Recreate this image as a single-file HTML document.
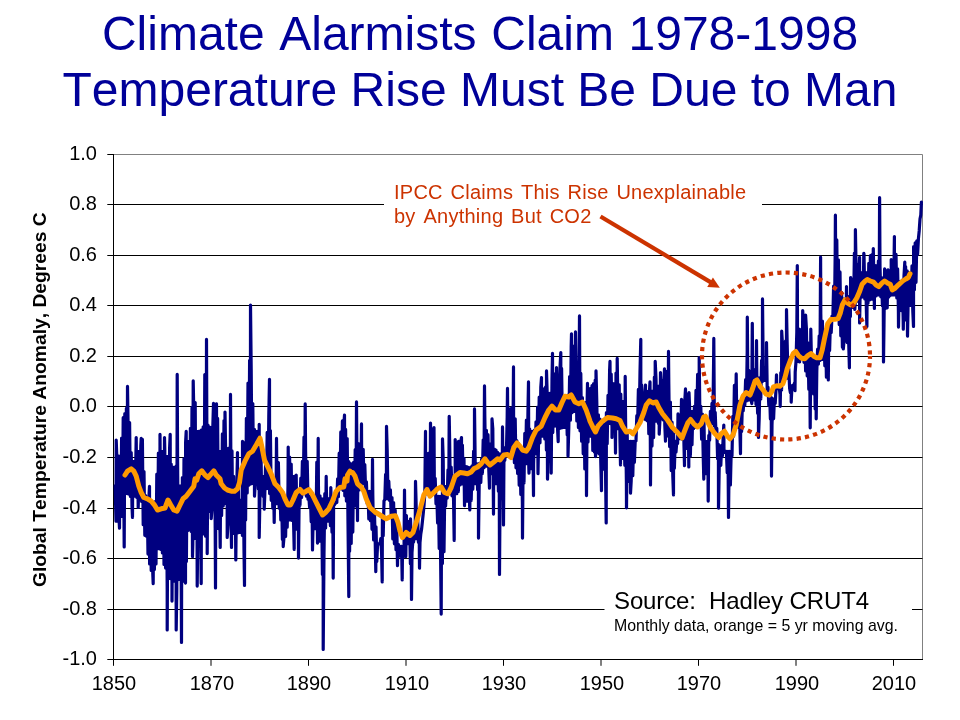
<!DOCTYPE html>
<html><head><meta charset="utf-8"><title>Slide</title>
<style>
html,body{margin:0;padding:0;background:#fff;}
body{width:960px;height:720px;position:relative;overflow:hidden;font-family:"Liberation Sans",sans-serif;color:#000;font-kerning:none;}
.t{position:absolute;white-space:nowrap;will-change:transform;}
.ttl{left:0;width:960px;text-align:center;font-size:48px;line-height:48px;color:#000099;}
#t1{top:9.56px;word-spacing:1.3px;}
#t2{top:66.06px;}
.yl{font-size:20px;line-height:20px;text-align:right;width:60px;left:37px;}
.xl{font-size:20px;line-height:20px;text-align:center;width:60px;}
#ytitle{font-weight:bold;font-size:19.28px;line-height:20px;transform-origin:0 0;transform:rotate(-90deg);left:29.9px;top:587px;}
#ann{left:394px;top:180.4px;font-size:20px;line-height:24px;color:#CC3300;letter-spacing:0.25px;word-spacing:2px;}
#src1{left:613.5px;top:587px;font-size:24px;line-height:28px;letter-spacing:-0.12px;}
#src2{left:613.8px;top:616px;font-size:15.9px;line-height:20px;}
</style></head><body>
<svg width="960" height="720" viewBox="0 0 960 720" style="position:absolute;left:0;top:0">
<path d="M113.5 154.5H922.5V659.5" fill="none" stroke="#808080" stroke-width="1"/>
<path d="M113.5 204.5H922.5" stroke="#000" stroke-width="1"/>
<path d="M113.5 255.5H922.5" stroke="#000" stroke-width="1"/>
<path d="M113.5 305.5H922.5" stroke="#000" stroke-width="1"/>
<path d="M113.5 356.5H922.5" stroke="#000" stroke-width="1"/>
<path d="M113.5 406.5H922.5" stroke="#000" stroke-width="1"/>
<path d="M113.5 457.5H922.5" stroke="#000" stroke-width="1"/>
<path d="M113.5 508.5H922.5" stroke="#000" stroke-width="1"/>
<path d="M113.5 558.5H922.5" stroke="#000" stroke-width="1"/>
<path d="M113.5 609.5H922.5" stroke="#000" stroke-width="1"/>
<rect x="384" y="180" width="378" height="50" fill="#fff"/>
<rect x="604.5" y="590" width="307.5" height="48" fill="#fff"/>
<path d="M113.5 154V660" stroke="#000" stroke-width="1"/>
<path d="M113 659.5H923" stroke="#000" stroke-width="1"/>
<path d="M107.3 154.5H113.5" stroke="#000" stroke-width="1"/>
<path d="M107.3 204.5H113.5" stroke="#000" stroke-width="1"/>
<path d="M107.3 255.5H113.5" stroke="#000" stroke-width="1"/>
<path d="M107.3 305.5H113.5" stroke="#000" stroke-width="1"/>
<path d="M107.3 356.5H113.5" stroke="#000" stroke-width="1"/>
<path d="M107.3 406.5H113.5" stroke="#000" stroke-width="1"/>
<path d="M107.3 457.5H113.5" stroke="#000" stroke-width="1"/>
<path d="M107.3 508.5H113.5" stroke="#000" stroke-width="1"/>
<path d="M107.3 558.5H113.5" stroke="#000" stroke-width="1"/>
<path d="M107.3 609.5H113.5" stroke="#000" stroke-width="1"/>
<path d="M107.3 659.5H113.5" stroke="#000" stroke-width="1"/>
<path d="M113.5 659.5V665.8" stroke="#000" stroke-width="1"/>
<path d="M211.0 659.5V665.8" stroke="#000" stroke-width="1"/>
<path d="M308.5 659.5V665.8" stroke="#000" stroke-width="1"/>
<path d="M406.0 659.5V665.8" stroke="#000" stroke-width="1"/>
<path d="M503.5 659.5V665.8" stroke="#000" stroke-width="1"/>
<path d="M601.0 659.5V665.8" stroke="#000" stroke-width="1"/>
<path d="M698.5 659.5V665.8" stroke="#000" stroke-width="1"/>
<path d="M796.0 659.5V665.8" stroke="#000" stroke-width="1"/>
<path d="M893.5 659.5V665.8" stroke="#000" stroke-width="1"/>
<path d="M115.2 485.5 L116.0 521.2 L116.2 440.1 L116.8 455.9 L117.6 521.2 L118.4 456.1 L119.2 522.2 L119.5 528.1 L120.0 456.1 L120.8 516.4 L121.6 438.0 L122.4 516.4 L123.2 417.7 L124.0 519.6 L124.2 546.9 L124.8 413.7 L125.6 493.6 L126.4 408.3 L127.2 493.6 L127.5 386.4 L128.0 419.6 L128.8 494.1 L129.6 422.5 L130.4 496.4 L131.2 452.5 L132.0 506.0 L132.5 517.4 L132.8 461.4 L133.6 496.1 L134.4 461.4 L135.2 496.1 L136.0 449.7 L136.2 437.6 L136.8 497.5 L137.6 451.4 L138.2 507.4 L138.4 499.6 L139.2 451.4 L140.0 498.6 L140.8 445.8 L141.2 438.4 L141.6 501.5 L142.4 439.4 L143.2 524.7 L144.0 471.6 L144.8 535.3 L145.6 495.6 L146.4 536.1 L147.2 498.9 L148.0 554.1 L148.8 498.9 L149.5 486.4 L149.6 564.0 L150.4 503.9 L151.2 570.5 L152.0 503.9 L152.8 574.3 L153.2 583.6 L153.6 503.2 L154.4 569.4 L155.2 501.6 L156.0 564.0 L156.8 474.2 L157.6 548.7 L158.4 453.0 L159.2 548.7 L160.0 446.3 L160.0 434.4 L160.8 549.4 L161.6 451.4 L162.4 552.9 L163.2 451.4 L164.0 564.5 L164.5 437.6 L164.8 450.4 L165.6 568.1 L166.4 456.4 L167.2 590.4 L167.2 629.9 L168.0 456.4 L168.8 578.6 L169.6 448.3 L170.2 434.4 L170.4 578.6 L171.2 464.1 L172.0 587.1 L172.0 601.1 L172.8 467.1 L173.6 581.1 L174.4 467.6 L175.2 581.1 L176.0 466.2 L176.2 629.9 L176.8 589.9 L177.2 374.4 L177.6 461.4 L178.4 579.6 L179.2 485.8 L180.0 579.6 L180.8 485.8 L181.5 642.4 L181.6 589.9 L182.4 477.6 L183.2 581.1 L184.0 458.7 L184.8 577.6 L185.5 583.1 L185.6 442.7 L186.2 431.4 L186.4 561.5 L187.2 441.4 L188.0 530.5 L188.8 441.4 L189.6 528.6 L190.4 428.3 L191.2 531.4 L192.0 407.4 L192.5 556.6 L192.8 544.4 L193.2 380.9 L193.6 401.4 L194.4 538.6 L195.2 402.5 L196.0 538.6 L196.8 431.4 L197.2 586.1 L197.6 548.9 L198.4 431.4 L199.2 544.6 L200.0 431.0 L200.8 546.6 L201.2 583.6 L201.6 429.8 L202.4 533.9 L203.2 426.8 L204.0 533.9 L204.8 374.6 L205.6 536.2 L206.4 422.0 L206.5 339.4 L207.2 524.9 L207.2 553.6 L208.0 425.2 L208.8 511.3 L209.6 427.0 L210.4 511.3 L211.2 427.6 L211.2 518.6 L212.0 508.9 L212.8 427.6 L213.5 403.4 L213.6 508.9 L214.4 411.5 L215.2 528.0 L215.5 587.9 L216.0 406.4 L216.5 403.9 L216.8 528.6 L217.6 418.4 L218.4 528.6 L219.2 451.4 L220.0 532.7 L220.2 547.4 L220.8 451.4 L221.6 515.6 L222.4 433.9 L223.2 506.0 L224.0 420.5 L224.8 503.6 L225.0 412.1 L225.6 448.8 L226.4 503.6 L227.2 448.8 L227.2 537.4 L228.0 523.9 L228.8 448.1 L229.6 523.9 L230.4 441.6 L230.5 394.4 L231.2 529.4 L231.5 547.4 L232.0 450.9 L232.8 533.6 L233.6 476.4 L234.4 533.6 L235.2 486.4 L235.8 559.9 L236.0 540.6 L236.8 486.4 L237.5 452.6 L237.6 533.0 L238.4 474.8 L239.2 532.4 L240.0 500.0 L240.8 532.4 L241.6 500.0 L242.4 535.5 L242.5 441.4 L243.2 465.4 L244.0 549.8 L244.5 585.4 L244.8 442.6 L245.6 519.9 L246.4 418.3 L247.2 492.9 L248.0 383.0 L248.8 485.2 L249.6 360.4 L250.4 484.1 L250.5 305.1 L251.2 369.1 L252.0 483.6 L252.8 403.6 L253.6 483.6 L254.4 429.3 L254.5 496.1 L255.2 484.4 L256.0 431.3 L256.8 483.9 L257.6 431.4 L258.4 489.0 L259.2 432.5 L259.2 424.4 L259.2 537.4 L260.0 493.9 L260.8 440.2 L261.6 493.9 L262.4 476.4 L263.2 496.4 L264.0 476.4 L264.2 509.1 L264.8 494.6 L265.6 464.7 L266.4 488.6 L267.2 432.3 L268.0 488.6 L268.8 415.4 L269.5 379.4 L269.6 493.6 L270.4 430.6 L271.2 500.3 L272.0 477.6 L272.8 508.1 L273.6 483.6 L274.2 522.4 L274.4 507.8 L275.2 483.6 L276.0 503.7 L276.5 438.4 L276.8 466.3 L277.6 503.7 L278.4 462.5 L279.2 508.2 L280.0 491.8 L280.8 520.0 L281.6 496.6 L282.4 539.4 L283.2 498.8 L283.2 546.6 L284.0 537.2 L284.8 498.8 L285.6 536.4 L286.4 497.0 L287.2 527.2 L288.0 485.7 L288.2 447.1 L288.8 519.9 L289.6 457.0 L290.4 519.9 L291.2 464.1 L292.0 520.4 L292.8 476.4 L293.6 523.6 L294.2 549.4 L294.4 476.4 L295.2 529.1 L296.0 487.5 L296.2 475.1 L296.8 529.1 L297.6 493.9 L298.4 529.5 L298.5 558.1 L299.2 493.9 L300.0 505.4 L300.8 478.2 L301.6 497.4 L302.4 461.4 L303.2 493.7 L304.0 437.0 L304.8 493.7 L305.2 403.9 L305.6 451.6 L306.4 496.1 L307.2 461.4 L308.0 499.3 L308.8 496.4 L309.6 507.4 L310.4 496.4 L311.2 521.8 L312.0 496.4 L312.5 549.9 L312.8 535.4 L313.6 496.4 L314.4 528.6 L315.2 495.4 L316.0 528.6 L316.8 462.2 L317.5 543.1 L317.6 535.6 L318.2 438.4 L318.4 483.1 L319.2 541.1 L320.0 495.9 L320.8 541.1 L321.6 498.9 L322.4 574.4 L323.2 498.9 L323.2 649.4 L324.0 553.1 L324.8 493.7 L325.6 528.0 L326.2 476.4 L326.4 490.3 L327.2 521.1 L328.0 498.6 L328.8 521.1 L329.6 498.6 L330.4 525.7 L330.8 487.6 L331.2 503.1 L332.0 532.1 L332.8 506.4 L333.2 578.1 L333.6 505.0 L334.4 504.9 L335.2 503.7 L336.0 502.4 L336.8 502.5 L337.6 478.9 L338.4 496.6 L339.2 453.2 L340.0 488.8 L340.8 431.9 L341.6 488.8 L342.4 420.9 L343.2 490.4 L344.0 422.2 L344.5 415.1 L344.8 495.8 L345.6 429.4 L346.4 501.1 L347.2 438.6 L348.0 523.1 L348.8 596.6 L348.8 461.6 L349.6 551.2 L350.4 463.6 L351.2 543.4 L352.0 463.9 L352.8 532.1 L353.6 462.3 L354.4 506.1 L355.2 449.5 L356.0 506.1 L356.5 401.9 L356.8 440.3 L357.5 520.6 L357.6 500.4 L358.4 443.6 L359.2 489.9 L360.0 443.9 L360.8 484.6 L361.5 423.9 L361.6 445.3 L362.4 483.6 L363.2 449.3 L364.0 484.0 L364.8 464.5 L365.6 490.4 L366.4 481.9 L367.2 503.6 L368.0 491.4 L368.8 519.0 L369.6 491.4 L370.4 520.6 L371.2 491.4 L372.0 529.3 L372.5 459.4 L372.8 495.0 L373.6 540.0 L374.4 509.9 L375.2 541.0 L375.8 571.6 L376.0 526.9 L376.8 561.5 L377.6 543.9 L378.4 543.8 L379.2 543.8 L380.0 543.8 L380.8 538.6 L381.6 553.3 L382.2 581.9 L382.4 517.2 L383.2 535.7 L384.0 500.9 L384.8 499.7 L385.6 474.4 L386.4 498.6 L386.5 426.4 L387.2 450.4 L388.0 498.9 L388.8 481.2 L389.6 500.5 L390.4 489.9 L391.2 516.8 L392.0 497.6 L392.8 539.0 L393.6 502.6 L394.4 543.8 L395.2 510.1 L396.0 549.7 L396.8 527.2 L397.5 565.6 L397.6 557.8 L398.4 544.3 L399.2 556.1 L400.0 546.4 L400.8 556.1 L401.6 546.4 L402.2 579.9 L402.4 558.8 L403.2 546.4 L404.0 556.1 L404.5 490.1 L404.8 521.1 L405.6 549.4 L405.8 556.6 L406.4 515.6 L407.2 543.6 L408.0 521.3 L408.8 543.6 L409.6 524.5 L410.4 563.6 L410.5 518.9 L411.2 541.4 L411.5 599.4 L412.0 552.6 L412.8 541.4 L413.6 541.9 L414.4 531.4 L415.2 538.6 L415.5 481.4 L416.0 499.4 L416.8 538.6 L417.6 515.9 L418.4 542.3 L419.2 533.9 L419.5 568.1 L420.0 542.5 L420.8 533.9 L421.6 529.1 L422.4 521.5 L423.2 513.9 L424.0 505.6 L424.8 494.1 L425.5 431.4 L425.6 464.4 L426.4 493.6 L427.2 453.9 L428.0 493.8 L428.8 453.2 L429.6 494.9 L430.0 496.1 L430.4 444.3 L430.5 423.1 L431.2 494.4 L432.0 428.9 L432.8 493.6 L433.6 446.9 L434.0 427.6 L434.4 493.6 L435.2 478.4 L436.0 503.8 L436.8 496.4 L437.6 523.0 L438.4 496.4 L439.2 548.4 L440.0 496.4 L440.8 576.7 L441.2 614.1 L441.6 496.4 L442.4 563.4 L442.5 438.9 L443.2 459.0 L444.0 551.7 L444.8 486.4 L445.6 506.1 L446.4 486.4 L447.2 498.1 L448.0 469.9 L448.8 493.6 L449.2 416.4 L449.6 438.6 L450.4 493.6 L451.2 467.2 L452.0 495.8 L452.8 476.0 L453.6 502.3 L454.2 540.4 L454.4 476.0 L455.2 493.6 L455.2 439.6 L456.0 455.6 L456.8 493.6 L457.6 443.9 L458.4 491.4 L458.5 441.4 L459.2 442.6 L460.0 485.0 L460.8 441.4 L461.5 437.6 L461.6 483.8 L462.4 445.2 L463.2 484.0 L464.0 458.4 L464.5 505.6 L464.8 496.8 L465.6 466.4 L466.4 501.1 L467.2 466.8 L468.0 501.1 L468.8 467.6 L469.6 504.9 L469.8 509.9 L470.4 467.6 L471.2 500.4 L472.0 465.8 L472.8 489.2 L473.6 451.2 L474.4 483.6 L474.5 408.9 L475.2 462.1 L476.0 483.6 L476.8 463.9 L477.6 489.6 L478.4 463.9 L478.5 538.1 L479.2 483.5 L480.0 463.2 L480.8 482.5 L481.6 459.1 L482.4 473.4 L483.2 439.8 L484.0 467.7 L484.5 385.9 L484.8 416.1 L485.6 466.1 L486.4 430.4 L487.2 466.1 L488.0 434.7 L488.8 469.6 L489.5 488.1 L489.6 443.9 L490.4 473.6 L491.2 443.9 L492.0 473.6 L492.0 418.9 L492.8 428.9 L493.5 514.1 L493.6 487.8 L494.4 449.1 L495.2 483.6 L496.0 450.1 L496.8 483.6 L497.6 452.4 L498.4 491.1 L499.2 453.9 L499.5 574.4 L500.0 502.4 L500.8 453.9 L501.6 498.6 L502.4 448.1 L502.5 426.9 L503.2 491.2 L503.5 524.9 L504.0 451.4 L504.8 460.5 L505.6 447.4 L506.4 453.3 L507.2 416.5 L507.5 388.4 L508.0 452.4 L508.8 408.9 L509.6 452.7 L510.4 408.9 L511.2 455.1 L512.0 407.6 L512.8 457.8 L513.5 366.9 L513.6 417.6 L514.4 462.6 L515.2 418.8 L516.0 467.8 L516.8 440.5 L517.6 473.4 L518.4 443.5 L519.2 485.2 L520.0 448.1 L520.8 494.4 L521.6 451.4 L522.4 504.2 L522.5 538.1 L523.2 451.4 L524.0 482.9 L524.8 433.4 L525.6 463.6 L526.4 420.0 L527.2 463.6 L528.0 408.6 L528.5 381.9 L528.8 467.0 L529.0 473.1 L529.6 428.9 L530.4 468.6 L531.2 431.4 L532.0 468.6 L532.8 431.4 L533.5 495.6 L533.6 464.1 L534.4 430.2 L535.2 453.6 L536.0 421.9 L536.8 453.6 L537.6 407.0 L538.0 473.6 L538.4 451.1 L539.2 397.0 L540.0 442.8 L540.8 387.0 L541.5 377.6 L541.6 436.1 L542.4 388.9 L543.2 436.1 L544.0 388.9 L544.8 438.9 L545.6 386.9 L546.4 450.1 L546.5 370.9 L547.2 393.9 L547.5 479.1 L548.0 461.4 L548.8 393.9 L549.6 461.4 L550.4 393.1 L551.2 446.5 L551.2 473.1 L552.0 378.9 L552.5 353.4 L552.8 432.6 L553.6 373.9 L554.4 426.1 L555.2 373.9 L556.0 426.1 L556.5 367.6 L556.8 376.4 L557.6 430.0 L558.2 441.6 L558.4 376.4 L559.2 428.6 L560.0 368.4 L560.8 352.6 L560.8 428.1 L561.6 368.4 L562.4 427.7 L563.2 396.8 L564.0 427.4 L564.8 397.6 L565.6 427.4 L566.4 397.6 L567.2 435.0 L568.0 395.2 L568.0 456.1 L568.8 427.7 L569.6 376.5 L570.4 420.2 L571.2 346.7 L571.5 333.9 L572.0 412.7 L572.8 346.1 L573.6 411.3 L574.4 346.1 L575.2 411.4 L575.5 331.9 L576.0 365.4 L576.8 421.0 L577.6 365.4 L578.4 427.6 L579.2 356.6 L579.5 315.9 L580.0 430.8 L580.8 373.4 L581.6 441.2 L582.4 397.7 L583.2 453.8 L584.0 402.6 L584.8 469.0 L585.6 402.6 L586.4 468.4 L586.5 495.6 L587.2 399.8 L587.5 383.4 L588.0 442.1 L588.8 388.7 L589.6 436.1 L590.4 388.7 L591.2 436.1 L592.0 385.7 L592.8 450.5 L593.6 383.5 L594.4 452.0 L595.2 380.0 L595.5 456.6 L596.0 452.6 L596.0 370.9 L596.8 402.9 L597.6 452.4 L598.4 414.9 L599.2 454.0 L600.0 419.2 L600.8 463.0 L601.5 490.6 L601.6 422.4 L602.4 469.1 L603.2 423.8 L604.0 469.1 L604.8 423.8 L605.6 478.4 L606.2 522.9 L606.4 412.7 L607.2 443.6 L608.0 395.4 L608.8 423.6 L609.6 370.4 L610.0 361.4 L610.4 423.6 L611.2 374.0 L612.0 427.7 L612.0 437.4 L612.8 383.5 L613.6 426.4 L614.4 383.5 L615.2 426.9 L615.5 453.1 L616.0 373.0 L616.8 428.6 L617.2 358.4 L617.6 383.9 L618.4 428.6 L619.2 384.8 L620.0 441.9 L620.5 464.9 L620.8 394.0 L621.6 458.6 L622.4 401.4 L623.2 458.6 L624.0 401.4 L624.8 465.3 L625.2 376.4 L625.6 421.4 L626.4 482.2 L626.5 507.9 L627.2 434.2 L628.0 481.4 L628.8 441.4 L629.6 481.4 L630.4 441.4 L630.5 493.1 L631.2 480.9 L632.0 441.4 L632.8 475.6 L633.6 441.4 L634.4 462.3 L635.2 441.4 L636.0 440.9 L636.8 415.7 L637.6 423.3 L638.4 389.3 L639.2 421.1 L640.0 372.4 L640.8 339.4 L640.8 419.0 L641.6 384.9 L642.4 418.6 L643.2 393.9 L644.0 418.7 L644.8 393.9 L645.5 385.1 L645.6 419.7 L646.4 391.4 L647.2 420.8 L648.0 391.4 L648.8 433.7 L649.6 388.7 L650.0 381.9 L650.4 453.8 L650.5 484.9 L651.2 391.1 L652.0 446.1 L652.8 391.1 L653.6 437.6 L654.4 377.1 L655.2 421.1 L655.2 361.4 L656.0 378.7 L656.8 421.1 L657.6 386.1 L658.4 423.5 L659.2 386.1 L659.2 434.1 L660.0 418.7 L660.5 372.6 L660.8 381.3 L661.6 418.7 L662.4 381.4 L663.2 420.0 L664.0 380.8 L664.5 368.9 L664.8 424.8 L665.5 441.1 L665.6 371.4 L666.4 436.1 L667.2 371.4 L668.0 436.1 L668.5 351.4 L668.8 383.7 L669.6 446.6 L670.4 402.0 L671.2 470.6 L672.0 422.0 L672.8 475.9 L673.5 494.9 L673.6 433.9 L674.4 468.1 L675.2 441.1 L676.0 452.1 L676.8 441.1 L677.6 443.6 L678.0 413.9 L678.4 429.6 L679.2 438.6 L680.0 416.4 L680.8 438.6 L681.5 399.4 L681.6 410.5 L682.4 439.2 L683.2 401.3 L684.0 446.0 L684.5 465.6 L684.8 400.6 L685.5 388.9 L685.6 448.6 L686.4 393.9 L687.2 448.6 L688.0 395.8 L688.8 466.9 L688.8 455.9 L689.0 392.6 L689.6 407.1 L690.4 455.9 L691.2 411.4 L692.0 444.6 L692.8 411.4 L693.6 428.6 L694.4 406.4 L695.2 427.5 L696.0 390.4 L696.8 426.5 L697.6 374.4 L698.4 426.1 L699.2 379.0 L699.2 357.6 L700.0 426.1 L700.8 406.3 L701.6 439.1 L702.4 414.0 L703.2 455.3 L703.8 479.1 L704.0 421.4 L704.8 473.7 L705.6 441.4 L706.4 473.7 L707.2 441.4 L708.0 470.9 L708.2 501.1 L708.8 435.4 L709.6 440.3 L710.4 411.4 L711.2 423.6 L712.0 403.4 L712.8 423.6 L713.6 361.4 L713.8 338.4 L714.4 426.1 L715.2 412.4 L716.0 434.1 L716.8 428.4 L717.6 458.6 L718.4 444.4 L718.5 508.1 L719.2 468.4 L720.0 446.4 L720.8 465.4 L721.6 445.3 L722.4 456.7 L723.2 436.2 L723.8 425.1 L724.0 452.4 L724.8 450.9 L725.6 452.4 L726.4 451.4 L727.2 472.7 L728.0 451.4 L728.5 517.4 L728.8 490.8 L729.6 451.4 L730.4 485.0 L731.2 451.4 L732.0 455.9 L732.8 416.4 L733.6 436.1 L734.4 385.3 L735.2 423.8 L736.0 388.3 L736.2 373.9 L736.8 423.8 L737.6 401.2 L738.4 427.3 L739.2 407.2 L740.0 435.3 L740.5 453.6 L740.8 407.2 L741.6 431.4 L742.4 403.2 L743.2 410.8 L744.0 396.8 L744.8 405.4 L745.6 379.7 L746.4 401.0 L747.2 351.9 L747.3 317.2 L748.0 400.2 L748.8 370.3 L749.6 399.9 L750.4 371.7 L751.2 399.9 L751.8 403.6 L752.0 367.1 L752.3 323.3 L752.8 399.9 L753.6 369.7 L754.4 399.9 L755.2 369.7 L756.0 404.5 L756.5 340.6 L756.8 374.1 L757.6 413.3 L758.4 377.8 L758.5 437.4 L759.2 418.1 L760.0 377.8 L760.8 398.9 L761.6 360.4 L762.4 381.4 L762.5 298.9 L763.2 366.9 L764.0 380.4 L764.8 378.1 L765.6 380.4 L766.4 378.1 L766.5 342.6 L767.2 389.4 L768.0 387.3 L768.8 405.4 L769.6 393.7 L770.4 419.0 L771.2 397.4 L771.5 476.1 L772.0 425.3 L772.8 398.8 L773.6 418.8 L774.4 398.8 L775.2 403.4 L776.0 389.4 L776.5 374.9 L776.8 388.7 L777.6 386.3 L778.4 388.7 L779.2 386.3 L780.0 394.9 L780.2 406.3 L780.8 372.7 L781.6 389.9 L781.7 331.2 L782.4 342.5 L783.2 381.8 L784.0 342.5 L784.8 379.1 L785.6 340.8 L786.4 378.3 L786.5 309.7 L787.2 344.5 L788.0 378.3 L788.8 368.9 L789.6 388.3 L790.4 392.7 L791.2 387.9 L791.2 402.1 L792.0 385.5 L792.8 385.5 L793.6 385.5 L794.4 383.2 L795.0 390.7 L795.2 372.2 L796.0 361.7 L796.8 332.3 L797.3 265.6 L797.6 361.5 L798.4 328.7 L799.2 359.7 L799.6 361.9 L800.0 330.1 L800.8 357.5 L801.6 329.2 L802.4 357.5 L802.7 310.6 L803.2 318.9 L804.0 362.3 L804.8 318.6 L805.6 370.9 L805.6 315.1 L806.4 328.7 L807.2 376.0 L808.0 342.9 L808.8 389.3 L809.6 344.5 L810.2 427.8 L810.4 398.1 L810.8 329.1 L811.2 348.2 L812.0 392.9 L812.8 355.2 L813.6 393.9 L814.4 357.2 L815.2 409.0 L816.0 357.2 L816.2 418.8 L816.8 370.8 L817.6 349.2 L818.4 364.1 L819.2 335.8 L820.0 360.5 L820.6 257.2 L820.8 313.9 L821.6 359.4 L822.4 321.1 L823.2 359.4 L824.0 330.1 L824.8 365.8 L825.6 330.1 L826.4 377.1 L827.2 326.0 L828.0 368.3 L828.3 379.9 L828.8 324.0 L829.6 350.4 L830.4 322.4 L831.2 332.7 L832.0 316.2 L832.8 319.7 L833.6 286.2 L834.4 318.4 L835.2 253.3 L835.4 215.2 L836.0 317.8 L836.8 239.9 L837.6 317.8 L838.4 259.8 L839.2 324.6 L840.0 271.9 L840.8 335.8 L841.6 292.4 L842.4 347.2 L843.2 298.8 L843.3 349.0 L844.0 340.8 L844.8 299.1 L845.6 340.8 L846.4 299.1 L846.5 286.6 L847.2 342.6 L848.0 297.9 L848.8 346.1 L849.4 367.8 L849.6 296.2 L850.4 316.4 L850.6 277.6 L851.2 284.5 L852.0 307.4 L852.8 279.2 L853.6 307.4 L854.4 253.1 L854.8 309.4 L855.2 302.9 L855.4 229.7 L856.0 263.0 L856.8 301.2 L857.6 264.7 L858.4 301.2 L859.2 268.3 L859.6 257.4 L859.6 323.0 L860.0 300.8 L860.8 272.6 L861.6 297.2 L862.4 272.6 L863.2 297.0 L863.8 253.3 L864.0 254.3 L864.8 299.0 L865.6 272.6 L866.4 311.1 L866.9 326.5 L867.2 272.6 L868.0 303.3 L868.8 263.3 L869.6 300.0 L870.4 255.7 L871.2 299.1 L872.0 254.7 L872.8 299.1 L873.3 248.5 L873.6 265.1 L874.4 308.4 L874.4 298.6 L875.2 265.7 L876.0 295.9 L876.8 265.7 L877.6 294.9 L878.4 260.9 L879.2 294.9 L879.6 197.7 L880.0 266.2 L880.8 296.8 L881.6 277.6 L882.4 305.6 L883.2 279.1 L883.5 361.9 L884.0 325.0 L884.6 268.9 L884.8 278.8 L885.6 308.3 L886.4 271.0 L887.2 307.8 L887.9 269.9 L888.0 270.9 L888.8 297.0 L889.6 270.9 L890.4 295.3 L891.2 269.5 L891.2 259.5 L892.0 294.9 L892.8 260.6 L893.6 294.9 L894.4 236.6 L894.4 256.4 L895.2 294.9 L896.0 254.3 L896.8 298.0 L897.6 268.9 L898.4 310.8 L898.5 327.1 L899.2 281.4 L900.0 309.4 L900.8 281.4 L901.6 310.7 L902.4 280.2 L903.2 320.6 L903.3 329.2 L904.0 275.8 L904.8 262.2 L904.8 319.9 L905.6 266.6 L906.4 319.9 L907.2 270.9 L907.5 336.1 L908.0 308.9 L908.8 272.9 L909.6 305.4 L910.4 272.9 L911.2 305.4 L912.0 265.9 L912.8 310.9 L913.5 326.5 L913.6 246.7 L914.4 289.7 L915.2 242.8 L916.0 282.3 L916.8 240.8 L917.6 254.4 L918.4 238.8 L919.2 230.9 L920.0 219.0 L920.8 215.0 L921.4 202.0" fill="none" stroke="#000080" stroke-width="3.2" stroke-linejoin="round" stroke-linecap="round"/>
<path d="M125.0 475.0 L127.5 471.2 L131.2 468.8 L133.8 471.2 L136.2 476.2 L138.8 486.2 L141.2 492.5 L143.8 497.5 L147.5 498.8 L151.2 501.2 L154.5 505.0 L157.5 510.0 L161.2 508.8 L165.0 508.0 L168.0 500.0 L170.8 505.0 L173.8 510.0 L177.0 511.2 L180.0 505.0 L183.0 498.8 L186.2 496.2 L190.0 491.2 L193.8 486.2 L195.0 478.8 L196.8 480.0 L198.8 473.8 L201.8 470.8 L205.0 475.0 L208.0 477.5 L211.2 473.8 L213.8 470.8 L216.2 475.0 L220.0 478.8 L221.2 483.8 L224.5 488.0 L227.5 490.0 L231.2 491.2 L234.5 491.2 L237.5 488.8 L239.5 482.5 L241.2 470.0 L245.0 461.2 L248.8 453.8 L252.5 451.2 L256.2 445.0 L260.0 438.2 L262.0 447.5 L264.5 460.0 L267.5 466.2 L271.2 473.8 L275.0 483.8 L278.8 487.5 L282.5 492.5 L285.0 498.8 L288.0 505.0 L290.5 505.0 L293.0 500.0 L296.2 492.5 L300.0 489.5 L303.0 493.0 L306.2 491.2 L308.8 489.5 L312.0 493.8 L315.0 500.0 L318.8 507.5 L322.5 515.0 L325.5 512.5 L328.8 508.8 L332.5 501.2 L336.2 491.2 L340.0 487.5 L343.8 487.0 L345.0 478.8 L347.0 481.2 L347.5 475.0 L350.0 471.2 L350.0 472.5 L352.5 472.5 L355.0 476.2 L357.5 483.8 L361.2 487.0 L363.8 491.2 L366.2 498.8 L370.0 507.5 L375.0 512.0 L380.0 515.0 L386.2 518.8 L391.2 516.2 L395.5 515.8 L398.0 522.5 L400.0 531.2 L402.5 537.5 L406.2 532.5 L410.0 535.5 L413.0 532.5 L416.2 522.5 L420.0 510.0 L423.8 495.0 L427.0 489.5 L430.0 496.2 L433.8 492.5 L437.5 488.8 L441.2 487.0 L444.5 492.5 L448.0 493.8 L451.2 487.5 L455.0 476.2 L460.0 472.5 L463.8 473.0 L467.5 473.8 L471.2 472.0 L473.8 468.8 L477.5 467.0 L481.2 463.8 L485.0 458.8 L487.5 462.5 L490.0 465.0 L493.8 462.0 L497.5 458.8 L500.0 460.0 L503.8 455.0 L507.5 454.5 L510.8 457.5 L513.8 447.5 L517.0 443.0 L520.0 446.2 L522.5 450.0 L526.2 451.2 L528.8 447.5 L532.5 437.5 L536.2 430.0 L541.2 426.2 L545.0 417.5 L548.8 410.0 L552.0 406.2 L555.5 410.0 L558.8 410.0 L562.0 402.5 L565.0 396.2 L568.8 397.0 L571.2 395.0 L575.0 402.0 L578.8 403.8 L582.5 402.0 L586.2 410.0 L589.5 419.5 L590.0 421.2 L593.0 427.5 L595.5 432.0 L598.0 426.2 L602.5 421.2 L607.5 417.5 L612.5 418.0 L616.2 418.8 L620.0 420.5 L622.5 426.2 L626.2 432.0 L630.0 431.2 L633.0 433.8 L636.2 428.8 L640.0 422.5 L643.8 412.5 L646.2 405.0 L649.5 400.8 L653.0 403.0 L656.2 402.0 L658.8 407.5 L662.5 413.8 L667.5 420.0 L672.5 427.5 L677.5 432.5 L682.0 438.0 L685.0 430.0 L688.0 422.5 L690.5 419.5 L693.8 423.8 L697.5 427.0 L701.2 423.8 L703.8 417.0 L705.5 416.2 L708.0 422.5 L711.2 428.8 L715.0 433.8 L718.8 437.5 L721.2 433.8 L724.5 431.2 L727.5 436.2 L730.0 438.8 L733.0 435.0 L736.2 425.0 L740.0 405.0 L743.0 396.2 L746.2 392.5 L750.0 395.0 L752.5 388.8 L755.0 381.2 L757.0 380.0 L760.0 385.8 L760.0 386.2 L763.1 390.0 L766.2 394.2 L769.4 395.2 L771.5 392.1 L773.5 386.9 L776.7 385.8 L779.8 386.2 L782.9 383.8 L785.0 377.5 L787.1 369.2 L790.2 360.8 L793.3 353.5 L795.8 351.5 L798.5 355.6 L801.7 358.3 L804.8 358.8 L807.9 355.6 L811.0 353.5 L813.8 356.2 L816.7 357.7 L820.0 357.7 L822.1 350.4 L824.2 340.0 L826.7 328.5 L827.7 323.8 L830.8 319.6 L835.0 319.2 L838.1 318.5 L840.2 313.3 L842.3 305.0 L845.0 299.8 L847.5 302.9 L850.6 305.0 L853.8 302.9 L856.9 297.7 L859.6 291.5 L862.1 284.2 L865.2 281.0 L867.3 279.6 L870.4 281.0 L873.5 282.1 L876.2 285.2 L878.8 286.7 L881.9 283.1 L884.6 281.0 L887.5 283.1 L890.2 284.2 L892.3 290.0 L895.0 288.3 L898.5 284.8 L902.7 281.0 L905.8 279.0 L908.3 277.5 L910.0 273.8" fill="none" stroke="#FF9900" stroke-width="5" stroke-linejoin="round" stroke-linecap="round"/>
<ellipse cx="786" cy="356" rx="84" ry="83.5" fill="none" stroke="#CC3300" stroke-width="4.2" stroke-dasharray="4.2 4.2" stroke-dashoffset="1.2"/>
<path d="M600.5 216.5L713 283.6" stroke="#CC3300" stroke-width="4.2" stroke-linecap="butt"/>
<path d="M719.8 287.8L707.2 287.0L712.9 277.5Z" fill="#CC3300"/>
</svg>
<div class="t ttl" id="t1">Climate Alarmists Claim 1978-1998</div><div class="t ttl" id="t2">Temperature Rise Must Be Due to Man</div>
<div class="t yl" style="top:143.0px">1.0</div>
<div class="t yl" style="top:193.0px">0.8</div>
<div class="t yl" style="top:244.0px">0.6</div>
<div class="t yl" style="top:294.0px">0.4</div>
<div class="t yl" style="top:345.0px">0.2</div>
<div class="t yl" style="top:395.0px">0.0</div>
<div class="t yl" style="top:446.0px">-0.2</div>
<div class="t yl" style="top:497.0px">-0.4</div>
<div class="t yl" style="top:547.0px">-0.6</div>
<div class="t yl" style="top:598.0px">-0.8</div>
<div class="t yl" style="top:648.0px">-1.0</div>
<div class="t xl" style="left:84.3px;top:673px">1850</div>
<div class="t xl" style="left:181.8px;top:673px">1870</div>
<div class="t xl" style="left:279.3px;top:673px">1890</div>
<div class="t xl" style="left:376.8px;top:673px">1910</div>
<div class="t xl" style="left:474.3px;top:673px">1930</div>
<div class="t xl" style="left:571.8px;top:673px">1950</div>
<div class="t xl" style="left:669.3px;top:673px">1970</div>
<div class="t xl" style="left:766.8px;top:673px">1990</div>
<div class="t xl" style="left:864.3px;top:673px">2010</div>
<div class="t" id="ytitle">Global Temperature Anomaly, Degrees C</div>
<div class="t" id="ann">IPCC Claims This Rise Unexplainable<br>by Anything But CO2</div>
<div class="t" id="src1">Source:&nbsp; Hadley CRUT4</div>
<div class="t" id="src2">Monthly data, orange = 5 yr moving avg.</div>
</body></html>
